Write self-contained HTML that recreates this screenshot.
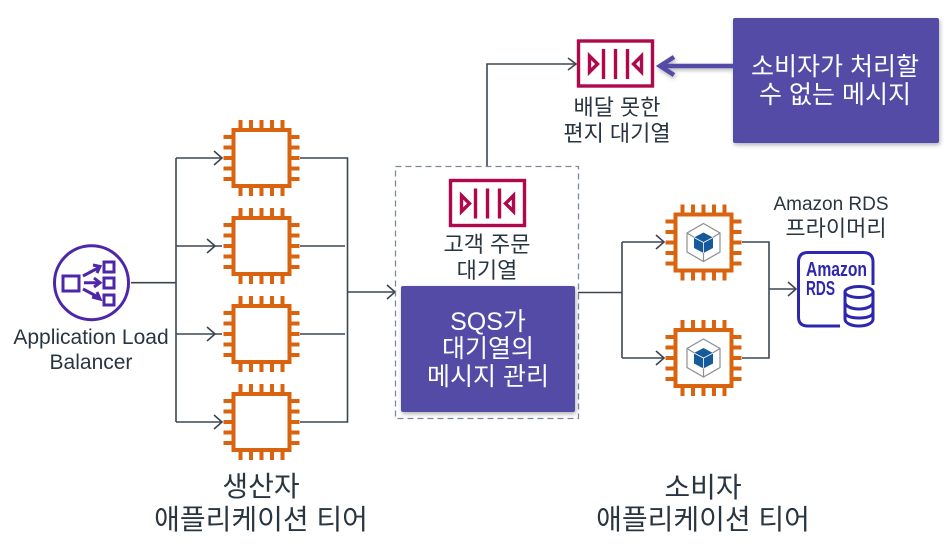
<!DOCTYPE html>
<html lang="ko"><head><meta charset="utf-8"><style>
html,body{margin:0;padding:0;background:#fff;width:946px;height:546px;overflow:hidden}
svg{display:block;filter:blur(.35px)}
text{font-family:"Liberation Sans","Noto Sans CJK KR",sans-serif;fill:#2a3542;text-anchor:middle}
.w{fill:#fff}
.l{fill:none;stroke:#3c4653;stroke-width:1.6}
.a{fill:none;stroke:#3c4653;stroke-width:1.6}
</style></head><body>
<svg width="946" height="546" viewBox="0 0 946 546" xmlns="http://www.w3.org/2000/svg">
<defs>
<g id="chip" fill="none" stroke="#d9630f" stroke-width="4">
<rect x="-28" y="-28" width="56" height="56" fill="#fff"/>
<path d="M-21-38v10M-10.500-38v10M0-38v10M10.500-38v10M21-38v10M-21 28v10M-10.500 28v10M0 28v10M10.500 28v10M21 28v10M-38-21h10M-38-10.500h10M-38 0h10M-38 10.500h10M-38 21h10M28-21h10M28-10.500h10M28 0h10M28 10.500h10M28 21h10"/>
</g>
<g id="cube">
<path d="M0-19L16.500-9.500V9.500L0 19L-16.500 9.500V-9.500Z" fill="none" stroke="#8c8f93" stroke-width="1.200"/>
<path d="M-16.500-9.500L-9-5M16.500-9.500L9-5M0 19V10" stroke="#8c8f93" stroke-width="1.200"/>
<path d="M0-10L9.500-5V5.500L0 10.500L-9.500 5.500V-5Z" fill="#175a9c"/>
<path d="M-9.500-5L0 0L9.500-5M0 0V10.500" fill="none" stroke="#fff" stroke-width=".8"/>
</g>
<g id="sqs" fill="none" stroke="#b0084d">
<rect x="-37" y="-22" width="74" height="45" stroke-width="3.400" fill="#fff"/>
<path d="M-12-14V16M0-14V16M12-14V16" stroke-width="3.400"/>
<path d="M-26-7L-18 1L-26 9Z M26-7L18 1L26 9Z" stroke-width="3.400"/>
</g>
<filter id="sh" x="-5%" y="-5%" width="110%" height="112%"><feDropShadow dx="1" dy="2" stdDeviation="2" flood-color="#000" flood-opacity=".3"/></filter>
</defs>

<!-- connector lines left -->
<path class="l" d="M131 282.700H176M176 158V422M176 158H222M176 246H222M176 334H222M176 422H222"/>
<path class="a" d="M214 151L222 158L214 165M207 239L215 246L207 253M207 327L215 334L207 341M214 415L222 422L214 429"/>
<path class="l" d="M300 158H347.500V422H300M300 246H345M300 334H345M347.500 292H395"/>
<path class="a" d="M387 285L395 292L387 299"/>

<!-- top connector -->
<path class="l" d="M487 166V64H576"/>
<path class="a" d="M568 58L576 64L568 70"/>

<!-- right connectors -->
<path class="l" d="M578 292.500H622M622 242V358M622 242H664M622 358H664M742 242H769V358H742M769 289H796"/>
<path class="a" d="M656 235L664 242L656 249M656 351L664 358L656 365M788 282L796 289L788 296"/>

<!-- ALB -->
<circle cx="91.500" cy="282.700" r="37" fill="#fff" stroke="#4d27a8" stroke-width="3"/>
<g fill="none" stroke="#4d27a8" stroke-width="3">
<rect x="63" y="276" width="16" height="15"/>
<rect x="104" y="262" width="10" height="10"/><rect x="104" y="278" width="10" height="10"/><rect x="104" y="295" width="10" height="10"/>
<path d="M83 276L98 268M84 282.700H99M83 289L98 297" />
<path d="M93 265L100 266.500L97 273M94 278L100 282.700L94 287M92 297L100 299L97 292"/>
</g>
<text x="91" y="344" font-size="21">Application Load</text>
<text x="91" y="369" font-size="21">Balancer</text>

<!-- producer chips -->
<use href="#chip" x="261.500" y="158"/>
<use href="#chip" x="261.500" y="246"/>
<use href="#chip" x="261.500" y="334"/>
<use href="#chip" x="261.500" y="422"/>
<text x="261" y="496" font-size="28">생산자</text>
<text x="261" y="529" font-size="28">애플리케이션 티어</text>

<!-- dashed group -->
<rect x="395.500" y="166.500" width="183" height="252" fill="none" stroke="#7d8998" stroke-width="1.300" stroke-dasharray="6 4"/>
<use href="#sqs" x="487.500" y="202.500"/>
<text x="487" y="252" font-size="22">고객 주문</text>
<text x="487" y="278" font-size="22">대기열</text>
<rect x="401" y="286" width="174" height="126" rx="2" fill="#524ba5" filter="url(#sh)"/>
<text class="w" x="488" y="330" font-size="25">SQS가</text>
<text class="w" x="488" y="357" font-size="25">대기열의</text>
<text class="w" x="488" y="385" font-size="25">메시지 관리</text>

<!-- DLQ -->
<use href="#sqs" x="615.500" y="63"/>
<text x="617" y="115" font-size="22">배달 못한</text>
<text x="617" y="141" font-size="22">편지 대기열</text>

<!-- purple note -->
<g filter="url(#sh)">
<path d="M733 66H661" stroke="#524ba5" stroke-width="4.500" fill="none"/>
<path d="M674 57L660 66L674 75" stroke="#524ba5" stroke-width="4.500" fill="none"/>
<rect x="733" y="18" width="206" height="125" rx="2" fill="#524ba5"/>
</g>
<text class="w" x="835" y="75" font-size="25">소비자가 처리할</text>
<text class="w" x="835" y="103" font-size="25">수 없는 메시지</text>

<!-- consumer chips -->
<use href="#chip" x="703.500" y="242.500"/>
<use href="#cube" x="703.500" y="242.500"/>
<use href="#chip" x="703.500" y="358"/>
<use href="#cube" x="703.500" y="358"/>
<text x="703" y="497" font-size="28">소비자</text>
<text x="703" y="529" font-size="28">애플리케이션 티어</text>

<!-- RDS -->
<text x="831" y="210" font-size="19">Amazon RDS</text>
<text x="836" y="236" font-size="22">프라이머리</text>
<path d="M840 326H808Q798.500 326 798.500 317V262Q798.500 252.500 808 252.500H863Q873 252.500 873 262V285" fill="none" stroke="#2e27ad" stroke-width="3"/>
<text x="836.500" y="276" font-size="20" font-weight="700" style="fill:#2e27ad" textLength="61" lengthAdjust="spacingAndGlyphs">Amazon</text>
<text x="820.500" y="295" font-size="20" font-weight="700" style="fill:#2e27ad" textLength="29" lengthAdjust="spacingAndGlyphs">RDS</text>
<g fill="#fff" stroke="#2e27ad" stroke-width="3">
<path d="M845 292V319C845 323 851 326 859 326C867 326 873 323 873 319V292Z"/>
<ellipse cx="859" cy="292" rx="14" ry="5.500"/>
<path d="M845 302C845 306 851 309 859 309C867 309 873 306 873 302M845 312C845 316 851 318 859 318C867 318 873 316 873 312" fill="none"/>
</g>
</svg>
</body></html>
